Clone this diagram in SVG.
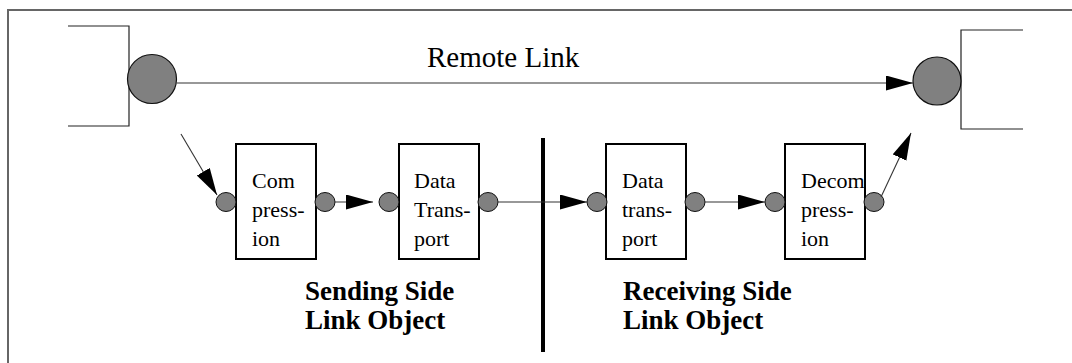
<svg xmlns="http://www.w3.org/2000/svg" width="1072" height="363" viewBox="0 0 1072 363">
  <style>
    .frame { fill: none; stroke: #666; stroke-width: 2; }
    .bracket { fill: none; stroke: #222; stroke-width: 1.2; }
    .big { fill: #808080; stroke: #111; stroke-width: 1.2; }
    .port { fill: #808080; stroke: #111; stroke-width: 1; }
    .box { fill: #fff; stroke: #000; stroke-width: 2; }
    .wire { fill: none; stroke: #333; stroke-width: 1.1; marker-end: url(#head); }
    .label { font-family: "Liberation Serif", "Times New Roman", serif; fill: #000; }
    .inbox { font-size: 22px; }
    .side { font-size: 27px; font-weight: bold; }
  </style>
  <defs>
    <marker id="head" markerUnits="userSpaceOnUse" markerWidth="28" markerHeight="16" refX="27" refY="7.5" orient="auto">
      <path d="M0,0 L27,7.5 L0,15 z" fill="#000"/>
    </marker>
  </defs>

  <rect width="1072" height="363" fill="#fff"/>

  <!-- outer frame (top and left edges) -->
  <path class="frame" d="M8,363 V10 H1072"/>

  <!-- end points of the remote link -->
  <g id="left-endpoint">
    <path class="bracket" d="M68,26 H129 V126 H68"/>
    <circle class="big" cx="152" cy="79" r="24.5"/>
  </g>
  <g id="right-endpoint">
    <path class="bracket" d="M1023,30 H961 V129 H1023" stroke-width="1.6"/>
    <circle class="big" cx="937" cy="81" r="24"/>
  </g>

  <text class="label" x="427" y="67" font-size="29">Remote Link</text>

  <!-- sending side -->
  <g id="compression">
    <rect class="box" x="236" y="144" width="80" height="115"/>
    <ellipse class="port" cx="226" cy="202" rx="10" ry="9.5"/>
    <ellipse class="port" cx="325" cy="202" rx="10" ry="9.5"/>
    <text class="label inbox" x="252" y="188">Com</text>
    <text class="label inbox" x="252" y="217">press-</text>
    <text class="label inbox" x="252" y="246">ion</text>
  </g>
  <g id="send-transport">
    <rect class="box" x="399" y="144" width="80" height="115"/>
    <ellipse class="port" cx="389" cy="202" rx="10" ry="9.5"/>
    <ellipse class="port" cx="488" cy="202" rx="10" ry="9.5"/>
    <text class="label inbox" x="414" y="188">Data</text>
    <text class="label inbox" x="414" y="217">Trans-</text>
    <text class="label inbox" x="414" y="246">port</text>
  </g>

  <!-- receiving side -->
  <g id="recv-transport">
    <rect class="box" x="606" y="144" width="80" height="115"/>
    <ellipse class="port" cx="597" cy="202" rx="10" ry="9.5"/>
    <ellipse class="port" cx="695" cy="202" rx="10" ry="9.5"/>
    <text class="label inbox" x="622" y="188">Data</text>
    <text class="label inbox" x="622" y="217">trans-</text>
    <text class="label inbox" x="622" y="246">port</text>
  </g>
  <g id="decompression">
    <rect class="box" x="785" y="144" width="80" height="115"/>
    <ellipse class="port" cx="775" cy="202" rx="10" ry="9.5"/>
    <ellipse class="port" cx="874" cy="202" rx="10" ry="9.5"/>
    <text class="label inbox" x="801" y="188">Decom</text>
    <text class="label inbox" x="801" y="217">press-</text>
    <text class="label inbox" x="801" y="246">ion</text>
  </g>

  <!-- divider between the two sides -->
  <line x1="543" y1="138" x2="543" y2="352" stroke="#000" stroke-width="4"/>

  <g id="side-labels">
    <text class="label side" x="305" y="300">Sending Side</text>
    <text class="label side" x="305" y="329">Link Object</text>
    <text class="label side" x="623" y="300">Receiving Side</text>
    <text class="label side" x="623" y="329">Link Object</text>
  </g>

  <!-- connectors -->
  <g id="connectors">
    <line class="wire" x1="177" y1="83" x2="913" y2="83"/>
    <line class="wire" x1="181" y1="134" x2="217" y2="195"/>
    <line class="wire" x1="335" y1="202" x2="373" y2="202"/>
    <line class="wire" x1="498" y1="202" x2="587" y2="202"/>
    <line class="wire" x1="705" y1="202" x2="765" y2="202"/>
    <line class="wire" x1="881" y1="197" x2="911" y2="133"/>
  </g>
</svg>
